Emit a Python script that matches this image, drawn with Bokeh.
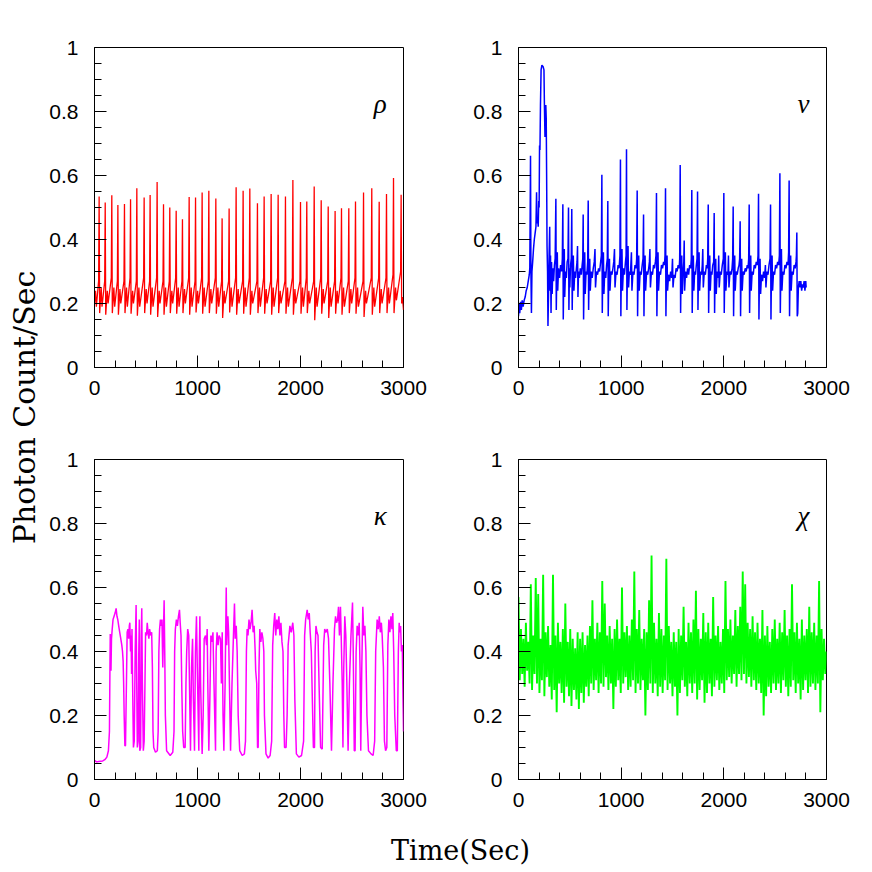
from math import pi
from bokeh.plotting import figure
from bokeh.layouts import row, column
from bokeh.models import FixedTicker, Range1d, Label
from bokeh.embed import file_html
from bokeh.resources import INLINE

# ---------------- data ----------------
Y_TICKS = [0, 0.2, 0.4, 0.6, 0.8, 1.0]
Y_TICK_LABELS = ["0", "0.2", "0.4", "0.6", "0.8", "1"]
Y_MINOR = [0.05, 0.1, 0.15, 0.25, 0.3, 0.35, 0.45, 0.5, 0.55, 0.65, 0.7, 0.75, 0.85, 0.9, 0.95]
X_TICKS = [0, 1000, 2000, 3000]
X_MINOR = [200, 400, 600, 800, 1200, 1400, 1600, 1800, 2200, 2400, 2600, 2800]

panel_names = ["ρ", "ν", "κ", "χ"]
panel_colors = ["#ff0000", "#0000ff", "#ff00ff", "#00ff00"]

# rho class: (time s, count rate)
rho_time = [0, 10, 18, 40,
            45, 50, 65, 73, 99,
            104, 109, 124, 132, 163,
            168, 173, 188, 196, 222,
            227, 232, 247, 255, 286,
            291, 296, 311, 319, 345,
            350, 355, 370, 378, 406,
            411, 416, 431, 439, 477,
            482, 487, 502, 510, 535,
            540, 545, 560, 568, 603,
            608, 613, 628, 636, 665,
            670, 675, 690, 698, 726,
            731, 736, 751, 759, 788,
            793, 798, 813, 821, 849,
            854, 859, 874, 882, 914,
            919, 924, 939, 947, 976,
            981, 986, 1001, 1009, 1040,
            1045, 1050, 1065, 1073, 1105,
            1110, 1115, 1130, 1138, 1173,
            1178, 1183, 1198, 1206, 1234,
            1239, 1244, 1259, 1267, 1302,
            1307, 1312, 1327, 1335, 1370,
            1375, 1380, 1395, 1403, 1438,
            1443, 1448, 1463, 1471, 1503,
            1508, 1513, 1528, 1536, 1577,
            1582, 1587, 1602, 1610, 1642,
            1647, 1652, 1667, 1675, 1710,
            1715, 1720, 1735, 1743, 1778,
            1783, 1788, 1803, 1811, 1849,
            1854, 1859, 1874, 1882, 1921,
            1926, 1931, 1946, 1954, 1995,
            2000, 2005, 2020, 2028, 2056,
            2061, 2066, 2081, 2089, 2128,
            2133, 2138, 2153, 2161, 2196,
            2201, 2206, 2221, 2229, 2264,
            2269, 2274, 2289, 2297, 2331,
            2336, 2341, 2356, 2364, 2393,
            2398, 2403, 2418, 2426, 2464,
            2469, 2474, 2489, 2497, 2529,
            2534, 2539, 2554, 2562, 2607,
            2612, 2617, 2632, 2640, 2687,
            2692, 2697, 2712, 2720, 2759,
            2764, 2769, 2784, 2792, 2830,
            2835, 2840, 2855, 2863, 2898,
            2903, 2908, 2923, 2931, 2972,
            2977, 2982, 2990, 3000]
rho_rate = [0.20, 0.24, 0.19, 0.27,
            0.534, 0.170, 0.250, 0.190, 0.270,
            0.516, 0.165, 0.240, 0.200, 0.280,
            0.538, 0.170, 0.250, 0.190, 0.270,
            0.508, 0.165, 0.245, 0.200, 0.270,
            0.511, 0.170, 0.250, 0.190, 0.280,
            0.526, 0.168, 0.240, 0.200, 0.270,
            0.560, 0.162, 0.250, 0.190, 0.280,
            0.531, 0.170, 0.245, 0.200, 0.270,
            0.539, 0.165, 0.250, 0.190, 0.280,
            0.580, 0.158, 0.240, 0.200, 0.270,
            0.510, 0.165, 0.250, 0.190, 0.270,
            0.500, 0.170, 0.240, 0.200, 0.280,
            0.490, 0.168, 0.250, 0.190, 0.270,
            0.463, 0.170, 0.245, 0.200, 0.280,
            0.533, 0.165, 0.250, 0.190, 0.270,
            0.531, 0.172, 0.240, 0.200, 0.280,
            0.547, 0.168, 0.250, 0.190, 0.270,
            0.552, 0.170, 0.245, 0.200, 0.280,
            0.528, 0.168, 0.250, 0.190, 0.270,
            0.466, 0.155, 0.240, 0.200, 0.270,
            0.497, 0.172, 0.250, 0.190, 0.280,
            0.563, 0.165, 0.245, 0.200, 0.270,
            0.552, 0.168, 0.250, 0.190, 0.280,
            0.559, 0.165, 0.240, 0.200, 0.270,
            0.513, 0.170, 0.250, 0.190, 0.280,
            0.534, 0.168, 0.245, 0.200, 0.270,
            0.542, 0.165, 0.250, 0.190, 0.280,
            0.540, 0.170, 0.240, 0.200, 0.270,
            0.534, 0.168, 0.250, 0.190, 0.280,
            0.586, 0.165, 0.245, 0.200, 0.270,
            0.517, 0.168, 0.250, 0.190, 0.280,
            0.519, 0.170, 0.240, 0.200, 0.270,
            0.566, 0.148, 0.250, 0.190, 0.280,
            0.523, 0.168, 0.245, 0.200, 0.270,
            0.503, 0.155, 0.250, 0.190, 0.270,
            0.489, 0.168, 0.240, 0.200, 0.280,
            0.498, 0.165, 0.250, 0.190, 0.270,
            0.498, 0.170, 0.245, 0.200, 0.280,
            0.519, 0.168, 0.250, 0.190, 0.270,
            0.547, 0.158, 0.240, 0.200, 0.280,
            0.560, 0.165, 0.250, 0.190, 0.280,
            0.518, 0.170, 0.245, 0.200, 0.280,
            0.542, 0.170, 0.250, 0.200, 0.290,
            0.592, 0.170, 0.250, 0.210, 0.300,
            0.540, 0.200, 0.220, 0.180]

# nu class: (time s, count rate) samples
nu_samples = [
    (0, 0.16), (5, 0.20), (12, 0.17), (20, 0.205), (28, 0.18), (36, 0.21), (45, 0.19), (55, 0.21),
    (65, 0.22), (75, 0.24), (85, 0.25), (95, 0.27), (105, 0.29), (110, 0.31), (114, 0.50), (117, 0.662),
    (121, 0.30), (126, 0.17), (131, 0.30), (138, 0.33), (146, 0.37), (154, 0.40), (162, 0.42), (170, 0.44),
    (176, 0.548), (180, 0.45), (186, 0.47), (192, 0.44), (197, 0.52), (201, 0.50), (205, 0.694), (209, 0.68),
    (214, 0.82), (220, 0.93), (228, 0.945), (240, 0.94), (248, 0.93), (253, 0.81), (258, 0.72), (262, 0.80),
    (266, 0.82), (270, 0.78), (274, 0.60), (278, 0.38), (283, 0.30), (287, 0.13), (292, 0.22), (298, 0.35),
    (304, 0.44), (308, 0.24), (312, 0.35), (317, 0.17), (322, 0.33), (328, 0.23), (334, 0.31), (342, 0.27),
    (350, 0.32), (357, 0.34), (364, 0.527), (368, 0.18), (373, 0.30), (378, 0.36), (382, 0.24), (390, 0.31),
    (400, 0.28), (410, 0.32), (420, 0.30), (427, 0.34), (432, 0.51), (436, 0.15), (441, 0.30), (446, 0.37),
    (450, 0.22), (458, 0.30), (466, 0.28), (474, 0.33), (482, 0.34), (487, 0.50), (491, 0.18), (496, 0.31),
    (500, 0.25), (507, 0.32), (514, 0.34), (519, 0.495), (523, 0.18), (528, 0.30), (534, 0.35), (540, 0.24),
    (548, 0.30), (556, 0.28), (564, 0.31), (570, 0.33), (575, 0.38), (579, 0.22), (585, 0.30), (593, 0.28),
    (602, 0.31), (612, 0.29), (620, 0.32), (626, 0.34), (630, 0.478), (634, 0.15), (640, 0.31), (645, 0.36),
    (650, 0.23), (658, 0.30), (666, 0.29), (674, 0.33), (679, 0.522), (683, 0.18), (688, 0.30), (694, 0.34),
    (699, 0.24), (708, 0.30), (718, 0.28), (728, 0.31), (738, 0.33), (745, 0.37), (750, 0.25), (760, 0.30),
    (770, 0.29), (780, 0.31), (790, 0.30), (800, 0.33), (807, 0.35), (812, 0.602), (816, 0.17), (821, 0.31),
    (827, 0.36), (832, 0.23), (840, 0.30), (850, 0.28), (858, 0.32), (865, 0.34), (870, 0.52), (874, 0.16),
    (880, 0.30), (886, 0.34), (891, 0.24), (900, 0.30), (910, 0.29), (920, 0.31), (928, 0.33), (935, 0.37),
    (940, 0.25), (950, 0.30), (960, 0.29), (970, 0.32), (980, 0.31), (988, 0.35), (993, 0.65), (997, 0.16),
    (1002, 0.31), (1008, 0.37), (1013, 0.24), (1022, 0.31), (1032, 0.29), (1042, 0.33), (1048, 0.35), (1052, 0.682),
    (1056, 0.18), (1061, 0.31), (1067, 0.38), (1072, 0.25), (1080, 0.30), (1090, 0.29), (1100, 0.36), (1105, 0.24),
    (1115, 0.30), (1125, 0.29), (1135, 0.32), (1145, 0.31), (1151, 0.34), (1156, 0.553), (1160, 0.16), (1165, 0.30),
    (1171, 0.35), (1176, 0.24), (1185, 0.30), (1195, 0.29), (1205, 0.32), (1213, 0.34), (1218, 0.478), (1222, 0.16),
    (1227, 0.30), (1233, 0.35), (1238, 0.24), (1248, 0.30), (1258, 0.29), (1268, 0.31), (1275, 0.33), (1280, 0.37),
    (1285, 0.25), (1295, 0.30), (1305, 0.29), (1315, 0.32), (1325, 0.31), (1333, 0.33), (1339, 0.35), (1344, 0.545),
    (1348, 0.16), (1353, 0.30), (1359, 0.36), (1364, 0.24), (1373, 0.30), (1383, 0.29), (1393, 0.32), (1403, 0.31),
    (1413, 0.33), (1422, 0.32), (1427, 0.35), (1432, 0.56), (1436, 0.16), (1441, 0.30), (1447, 0.35), (1452, 0.24),
    (1462, 0.29), (1472, 0.27), (1482, 0.30), (1492, 0.28), (1500, 0.34), (1505, 0.25), (1515, 0.29), (1525, 0.28),
    (1535, 0.31), (1545, 0.30), (1555, 0.32), (1565, 0.31), (1570, 0.34), (1575, 0.633), (1579, 0.17), (1584, 0.31),
    (1590, 0.35), (1595, 0.23), (1604, 0.30), (1610, 0.33), (1614, 0.397), (1618, 0.24), (1627, 0.30), (1637, 0.28),
    (1647, 0.31), (1657, 0.29), (1667, 0.32), (1677, 0.31), (1683, 0.34), (1688, 0.555), (1692, 0.17), (1697, 0.30),
    (1703, 0.35), (1708, 0.24), (1716, 0.30), (1724, 0.29), (1732, 0.32), (1739, 0.34), (1744, 0.55), (1748, 0.18),
    (1753, 0.30), (1759, 0.36), (1764, 0.24), (1773, 0.30), (1783, 0.29), (1790, 0.32), (1795, 0.37), (1800, 0.25),
    (1810, 0.30), (1820, 0.29), (1830, 0.32), (1838, 0.31), (1843, 0.34), (1848, 0.509), (1852, 0.17), (1857, 0.30),
    (1863, 0.35), (1868, 0.24), (1876, 0.30), (1884, 0.29), (1892, 0.32), (1901, 0.33), (1906, 0.483), (1910, 0.17),
    (1915, 0.30), (1921, 0.34), (1926, 0.23), (1935, 0.30), (1945, 0.28), (1950, 0.35), (1955, 0.25), (1965, 0.30),
    (1975, 0.29), (1985, 0.32), (1995, 0.34), (2000, 0.545), (2004, 0.17), (2009, 0.30), (2015, 0.36), (2020, 0.24),
    (2030, 0.30), (2040, 0.29), (2045, 0.35), (2050, 0.25), (2060, 0.30), (2070, 0.29), (2080, 0.31), (2086, 0.34),
    (2091, 0.503), (2095, 0.16), (2100, 0.30), (2106, 0.35), (2111, 0.24), (2120, 0.30), (2130, 0.29), (2140, 0.31),
    (2148, 0.32), (2154, 0.34), (2159, 0.457), (2163, 0.16), (2168, 0.30), (2174, 0.34), (2179, 0.24), (2188, 0.30),
    (2198, 0.29), (2208, 0.31), (2218, 0.30), (2228, 0.32), (2236, 0.31), (2242, 0.34), (2247, 0.509), (2251, 0.17),
    (2256, 0.30), (2262, 0.35), (2267, 0.24), (2276, 0.30), (2286, 0.29), (2296, 0.32), (2306, 0.31), (2316, 0.33),
    (2326, 0.32), (2333, 0.35), (2338, 0.543), (2342, 0.15), (2347, 0.30), (2353, 0.34), (2358, 0.23), (2367, 0.29),
    (2377, 0.27), (2387, 0.30), (2397, 0.28), (2405, 0.32), (2410, 0.25), (2420, 0.30), (2430, 0.29), (2440, 0.32),
    (2450, 0.34), (2455, 0.509), (2459, 0.15), (2464, 0.30), (2470, 0.35), (2475, 0.24), (2484, 0.30), (2494, 0.29),
    (2504, 0.32), (2514, 0.31), (2524, 0.33), (2534, 0.32), (2541, 0.35), (2546, 0.607), (2550, 0.17), (2555, 0.30),
    (2561, 0.37), (2566, 0.24), (2575, 0.30), (2585, 0.29), (2595, 0.32), (2605, 0.31), (2615, 0.33), (2625, 0.32),
    (2631, 0.36), (2636, 0.584), (2640, 0.16), (2645, 0.30), (2651, 0.35), (2656, 0.24), (2665, 0.30), (2675, 0.29),
    (2685, 0.32), (2695, 0.31), (2703, 0.33), (2707, 0.35), (2711, 0.422), (2715, 0.16), (2720, 0.17), (2726, 0.25),
    (2734, 0.27), (2742, 0.25), (2750, 0.27), (2758, 0.24), (2766, 0.26), (2774, 0.25), (2782, 0.27), (2790, 0.24),
    (2798, 0.27), (2802, 0.25),
]

# kappa class: (time s, count rate) samples
kappa_samples = [
    (0, 0.060), (20, 0.055), (40, 0.056), (60, 0.057), (80, 0.058), (100, 0.062), (120, 0.070), (135, 0.090),
    (145, 0.150), (150, 0.350), (153, 0.455), (156, 0.350), (160, 0.340), (165, 0.440), (172, 0.470), (180, 0.500),
    (190, 0.510), (200, 0.520), (210, 0.535), (218, 0.510), (226, 0.500), (235, 0.480), (245, 0.460), (255, 0.440),
    (265, 0.420), (272, 0.400), (278, 0.370), (283, 0.300), (288, 0.200), (295, 0.105), (301, 0.106), (310, 0.300),
    (317, 0.460), (325, 0.470), (332, 0.440), (338, 0.480), (343, 0.490), (350, 0.400), (355, 0.450), (360, 0.330),
    (364, 0.470), (370, 0.300), (378, 0.100), (386, 0.120), (395, 0.400), (404, 0.545), (410, 0.300), (416, 0.100),
    (424, 0.120), (430, 0.400), (435, 0.500), (440, 0.090), (448, 0.100), (454, 0.450), (459, 0.535), (465, 0.300),
    (474, 0.090), (482, 0.120), (490, 0.300), (496, 0.460), (505, 0.450), (512, 0.490), (520, 0.460), (528, 0.440),
    (535, 0.470), (545, 0.450), (555, 0.460), (562, 0.350), (568, 0.150), (575, 0.100), (592, 0.085), (610, 0.090),
    (618, 0.150), (625, 0.400), (632, 0.470), (640, 0.500), (648, 0.480), (655, 0.500), (663, 0.350), (670, 0.470),
    (676, 0.560), (682, 0.400), (688, 0.200), (700, 0.090), (735, 0.075), (760, 0.085), (772, 0.150), (778, 0.400),
    (785, 0.470), (795, 0.500), (805, 0.480), (815, 0.510), (825, 0.530), (832, 0.490), (840, 0.450), (848, 0.280),
    (856, 0.150), (866, 0.100), (880, 0.100), (888, 0.300), (895, 0.400), (905, 0.470), (915, 0.450), (922, 0.300),
    (932, 0.090), (942, 0.350), (952, 0.440), (960, 0.250), (971, 0.090), (980, 0.400), (990, 0.510), (998, 0.350),
    (1013, 0.090), (1018, 0.400), (1023, 0.510), (1030, 0.300), (1045, 0.080), (1055, 0.200), (1065, 0.440), (1078, 0.450),
    (1088, 0.420), (1094, 0.470), (1100, 0.300), (1110, 0.090), (1120, 0.250), (1130, 0.450), (1140, 0.430), (1150, 0.460),
    (1160, 0.300), (1175, 0.090), (1181, 0.400), (1190, 0.460), (1200, 0.420), (1210, 0.450), (1223, 0.440), (1232, 0.300),
    (1240, 0.460), (1248, 0.200), (1256, 0.090), (1268, 0.300), (1279, 0.600), (1284, 0.420), (1295, 0.510), (1302, 0.460),
    (1310, 0.300), (1321, 0.090), (1335, 0.300), (1350, 0.460), (1359, 0.550), (1366, 0.440), (1376, 0.480), (1385, 0.400),
    (1395, 0.200), (1410, 0.090), (1434, 0.075), (1455, 0.080), (1466, 0.120), (1475, 0.400), (1482, 0.470), (1490, 0.450),
    (1500, 0.500), (1510, 0.470), (1520, 0.490), (1530, 0.530), (1540, 0.460), (1550, 0.480), (1560, 0.400), (1565, 0.340),
    (1575, 0.300), (1583, 0.100), (1589, 0.100), (1597, 0.350), (1605, 0.470), (1615, 0.430), (1625, 0.460), (1635, 0.440),
    (1644, 0.400), (1650, 0.200), (1665, 0.080), (1686, 0.067), (1705, 0.075), (1720, 0.120), (1730, 0.420), (1740, 0.480),
    (1750, 0.520), (1760, 0.450), (1770, 0.500), (1780, 0.470), (1790, 0.510), (1800, 0.450), (1810, 0.490), (1820, 0.430),
    (1830, 0.400), (1838, 0.200), (1845, 0.100), (1860, 0.100), (1870, 0.200), (1880, 0.420), (1897, 0.480), (1910, 0.460),
    (1925, 0.490), (1936, 0.450), (1945, 0.250), (1960, 0.080), (1984, 0.070), (2010, 0.075), (2030, 0.120), (2040, 0.450),
    (2050, 0.500), (2065, 0.530), (2075, 0.500), (2085, 0.520), (2094, 0.460), (2105, 0.400), (2115, 0.250), (2125, 0.100),
    (2136, 0.100), (2142, 0.400), (2150, 0.480), (2160, 0.460), (2170, 0.450), (2180, 0.300), (2195, 0.100), (2211, 0.095),
    (2225, 0.420), (2235, 0.470), (2245, 0.460), (2260, 0.470), (2272, 0.440), (2285, 0.300), (2301, 0.090), (2315, 0.300),
    (2330, 0.470), (2340, 0.510), (2350, 0.490), (2360, 0.500), (2369, 0.540), (2378, 0.450), (2388, 0.540), (2395, 0.450),
    (2405, 0.300), (2412, 0.100), (2420, 0.350), (2430, 0.510), (2440, 0.450), (2450, 0.300), (2462, 0.090), (2475, 0.300),
    (2490, 0.450), (2505, 0.553), (2512, 0.400), (2522, 0.090), (2530, 0.090), (2540, 0.400), (2550, 0.480), (2560, 0.450),
    (2570, 0.490), (2578, 0.350), (2585, 0.090), (2595, 0.350), (2605, 0.540), (2615, 0.450), (2625, 0.480), (2635, 0.400),
    (2645, 0.200), (2660, 0.090), (2685, 0.080), (2705, 0.075), (2720, 0.120), (2730, 0.400), (2744, 0.500), (2755, 0.470),
    (2765, 0.510), (2775, 0.460), (2785, 0.490), (2793, 0.450), (2805, 0.350), (2815, 0.120), (2826, 0.090), (2838, 0.100),
    (2848, 0.420), (2858, 0.500), (2868, 0.460), (2878, 0.510), (2888, 0.470), (2896, 0.520), (2905, 0.400), (2915, 0.200),
    (2930, 0.090), (2940, 0.090), (2950, 0.400), (2958, 0.490), (2965, 0.460), (2972, 0.480), (2980, 0.400), (2988, 0.420),
    (2995, 0.250), (3000, 0.150),
]

# chi class: count rate sampled every 12 s from 0 to 3000 s
chi_step = 12
chi_rate = [
    0.57, 0.31, 0.47, 0.33, 0.44, 0.29, 0.49, 0.34, 0.43, 0.30,
    0.61, 0.28, 0.45, 0.33, 0.63, 0.30, 0.58, 0.27, 0.44, 0.31,
    0.64, 0.26, 0.46, 0.32, 0.48, 0.29, 0.42, 0.25, 0.64, 0.28,
    0.45, 0.21, 0.49, 0.30, 0.43, 0.27, 0.47, 0.24, 0.55, 0.29,
    0.43, 0.26, 0.47, 0.23, 0.44, 0.28, 0.41, 0.25, 0.46, 0.22,
    0.44, 0.27, 0.46, 0.24, 0.42, 0.29, 0.45, 0.26, 0.48, 0.30,
    0.56, 0.28, 0.44, 0.31, 0.49, 0.27, 0.46, 0.30, 0.62, 0.29,
    0.55, 0.32, 0.45, 0.28, 0.48, 0.30, 0.44, 0.22, 0.47, 0.29,
    0.50, 0.31, 0.44, 0.27, 0.60, 0.30, 0.46, 0.32, 0.48, 0.28,
    0.45, 0.29, 0.50, 0.31, 0.65, 0.27, 0.47, 0.30, 0.53, 0.28,
    0.44, 0.31, 0.47, 0.20, 0.46, 0.28, 0.56, 0.30, 0.70, 0.27,
    0.49, 0.30, 0.44, 0.26, 0.52, 0.29, 0.47, 0.27, 0.45, 0.31,
    0.69, 0.28, 0.48, 0.30, 0.43, 0.26, 0.46, 0.29, 0.43, 0.20,
    0.47, 0.27, 0.45, 0.31, 0.54, 0.29, 0.43, 0.26, 0.49, 0.30,
    0.46, 0.27, 0.50, 0.30, 0.59, 0.25, 0.47, 0.28, 0.44, 0.31,
    0.52, 0.24, 0.46, 0.27, 0.49, 0.30, 0.44, 0.26, 0.57, 0.29,
    0.45, 0.31, 0.48, 0.28, 0.43, 0.30, 0.47, 0.27, 0.62, 0.31,
    0.47, 0.32, 0.50, 0.30, 0.45, 0.33, 0.53, 0.29, 0.48, 0.33,
    0.54, 0.31, 0.65, 0.33, 0.61, 0.30, 0.49, 0.32, 0.47, 0.29,
    0.51, 0.31, 0.46, 0.28, 0.49, 0.30, 0.44, 0.27, 0.53, 0.20,
    0.45, 0.26, 0.48, 0.29, 0.43, 0.27, 0.47, 0.30, 0.50, 0.28,
    0.44, 0.30, 0.49, 0.27, 0.46, 0.31, 0.53, 0.29, 0.45, 0.26,
    0.47, 0.29, 0.61, 0.31, 0.46, 0.27, 0.49, 0.30, 0.44, 0.25,
    0.50, 0.28, 0.45, 0.31, 0.47, 0.27, 0.54, 0.29, 0.46, 0.30,
    0.49, 0.28, 0.45, 0.30, 0.62, 0.21, 0.47, 0.31, 0.44, 0.33,
    0.40,
]
chi_time = list(range(0, chi_step * len(chi_rate), chi_step))

nu_time = [t for t, _ in nu_samples]
nu_rate = [r for _, r in nu_samples]
kappa_time = [t for t, _ in kappa_samples]
kappa_rate = [r for _, r in kappa_samples]

assert len(rho_time) == len(rho_rate)
assert len(chi_time) == len(chi_rate)

# ---------------- styling helpers ----------------
TICK_FONT = "Liberation Sans"
TITLE_FONT = "DejaVu Serif"


def make_panel(width, height, bl, br, bt, bb, xs, ys, color, lw, name):
    p = figure(width=width, height=height,
               x_range=Range1d(0, 3000), y_range=Range1d(0, 1),
               output_backend="svg", toolbar_location=None,
               min_border_left=bl, min_border_right=br,
               min_border_top=bt, min_border_bottom=bb,
               background_fill_color="white", border_fill_color="white")
    p.grid.visible = False
    p.outline_line_color = "black"
    p.outline_line_width = 1
    p.outline_line_alpha = 1.0
    p.line(xs, ys, line_color=color, line_width=lw)

    for ax in (p.xaxis[0], p.yaxis[0]):
        ax.axis_line_color = "black"
        ax.axis_line_width = 1
        ax.major_tick_out = 0
        ax.minor_tick_out = 0
        ax.major_tick_in = 12
        ax.minor_tick_in = 7
        ax.major_tick_line_color = "black"
        ax.minor_tick_line_color = "black"
        ax.major_label_text_font = TICK_FONT
        ax.major_label_text_font_size = "21px"
        ax.major_label_text_color = "black"
    p.xaxis.ticker = FixedTicker(ticks=X_TICKS, minor_ticks=X_MINOR)
    p.yaxis.ticker = FixedTicker(ticks=Y_TICKS, minor_ticks=Y_MINOR)
    p.yaxis.major_label_overrides = dict(zip(Y_TICKS, Y_TICK_LABELS))
    p.yaxis.major_label_standoff = 16
    p.xaxis.major_label_standoff = 13

    p.add_layout(Label(x=2775, y=0.825, text=name,
                       text_font="Liberation Serif", text_font_style="italic",
                       text_font_size="27px", text_color="black",
                       text_align="center", text_baseline="alphabetic"))
    return p


p_rho = make_panel(416, 420, 50, 57, 47, 53, rho_time, rho_rate, panel_colors[0], 1.3, panel_names[0])
p_nu = make_panel(390, 420, 58, 24, 47, 53, nu_time, nu_rate, panel_colors[1], 1.5, panel_names[1])
p_kappa = make_panel(416, 401, 50, 57, 39, 42, kappa_time, kappa_rate, panel_colors[2], 1.5, panel_names[2])
p_chi = make_panel(390, 401, 58, 24, 39, 42, chi_time, chi_rate, panel_colors[3], 1.9, panel_names[3])


def text_strip(width, height):
    f = figure(width=width, height=height,
               x_range=Range1d(0, width), y_range=Range1d(0, height),
               x_axis_type=None, y_axis_type=None,
               output_backend="svg", toolbar_location=None,
               min_border=0, min_border_left=0, min_border_right=0,
               min_border_top=0, min_border_bottom=0,
               background_fill_color="white", border_fill_color="white")
    f.grid.visible = False
    f.outline_line_color = None
    return f


ylab = text_strip(44, 869)
ylab.add_layout(Label(x=24, y=462, text="Photon Count/Sec", angle=pi / 2,
                      text_font=TITLE_FONT, text_font_size="30px", text_color="black",
                      text_align="center", text_baseline="alphabetic"))

xlab = text_strip(806, 48)
xlab.add_layout(Label(x=416, y=19, text="Time(Sec)",
                      text_font=TITLE_FONT, text_font_size="27px", text_color="black",
                      text_align="center", text_baseline="middle"))

layout = row(ylab, column(row(p_rho, p_nu), row(p_kappa, p_chi), xlab))

open("out.html", "w").write(file_html(layout, INLINE))
